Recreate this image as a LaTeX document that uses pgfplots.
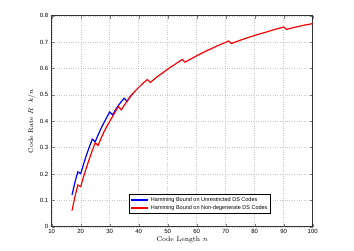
\documentclass[border=0pt]{standalone}
\usepackage{fontspec}
\setsansfont{Liberation Sans}
\usepackage{pgfplots}
\pgfplotsset{compat=1.18}
\begin{document}
\begin{tikzpicture}
\path[use as bounding box] (0,0) rectangle (354pt,250pt);
\begin{axis}[
  at={(51.7pt,23.3pt)}, anchor=south west,
  scale only axis, width=261pt, height=211pt,
  xmin=10, xmax=100, ymin=0, ymax=0.8,
  xtick={10,20,...,100},
  ytick={0,0.1,...,0.8},
  yticklabels={0,0.1,0.2,0.3,0.4,0.5,0.6,0.7,0.8},
  grid=major,
  grid style={dotted, gray!45, line width=0.4pt},
  major tick length=3pt,
  axis line style={black!80, line width=0.5pt},
  /pgf/number format/assume math mode=true,
  tick label style={font=\sffamily\fontsize{6}{7}\selectfont},
  xticklabel style={yshift=1pt},
  xlabel={Code Length $n$},
  ylabel={Code Rate $R$\hspace{0.9em}$k/n$},
  label style={font=\fontsize{6.8}{7.5}\selectfont},
  xlabel style={yshift=4pt},
  ylabel style={yshift=-2pt},
  legend style={at={(0.297,0.155)}, anchor=north west,
    font=\sffamily\fontsize{5.5}{6}\selectfont,
    inner sep=1pt, row sep=-1.5pt},
  legend cell align=left,
]
\addlegendimage{draw=blue, line width=1.5pt, line legend}
\addlegendentry{Hamming Bound on Unrestricted DS Codes}
\addlegendimage{draw=red, line width=1.5pt, line legend}
\addlegendentry{Hamming Bound on Non-degenerate DS Codes}
\addplot[blue, line width=1.2pt, forget plot] coordinates {
(17,0.120) (18,0.168) (19,0.208) (20,0.201) (21,0.238) (22,0.272) (23,0.303) (24,0.332)
(25,0.322) (26,0.348) (27,0.372) (28,0.394) (29,0.415) (30,0.435) (31,0.424) (32,0.443)
(33,0.460) (34,0.474) (35,0.487) (36,0.475) (37,0.492) (38,0.505)
};
\addplot[red, line width=1.2pt, forget plot] coordinates {
(17,0.061) (18,0.113) (19,0.158) (20,0.152) (21,0.190) (22,0.225) (23,0.258) (24,0.289)
(25,0.318) (26,0.308) (27,0.335) (28,0.359) (29,0.380) (30,0.399) (31,0.418) (32,0.437)
(33,0.456) (34,0.443) (35,0.460) (36,0.476) (37,0.492) (38,0.505) (39,0.517) (40,0.528)
(41,0.539) (42,0.549) (43,0.558) (44,0.547) (45,0.556) (46,0.565) (47,0.573) (48,0.581)
(49,0.589) (50,0.597) (51,0.605) (52,0.612) (53,0.619) (54,0.627) (55,0.634) (56,0.624)
(57,0.630) (58,0.636) (60,0.648) (62,0.659) (64,0.670) (66,0.680) (68,0.690) (70,0.699)
(71,0.704) (72,0.695) (74,0.703) (76,0.711) (78,0.718) (80,0.725) (82,0.732) (84,0.738)
(86,0.745) (88,0.751) (90,0.757) (91,0.748) (93,0.754) (95,0.759) (97,0.764) (100,0.770)
};
\end{axis}
\end{tikzpicture}
\end{document}
